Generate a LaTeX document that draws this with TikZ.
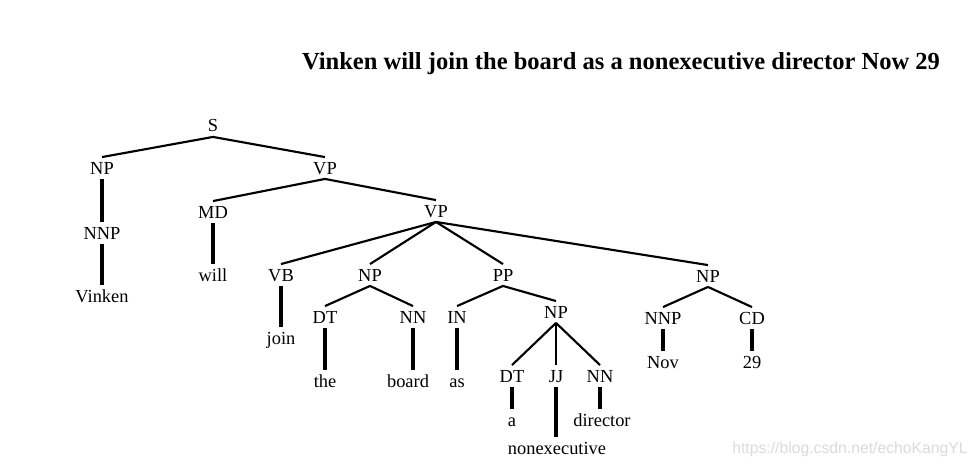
\documentclass[tikz,border=0pt]{standalone}
\usepackage{fontspec}
\setmainfont{Liberation Serif}
\newfontfamily\wmfont{Liberation Sans}
\begin{document}
\begin{tikzpicture}[x=0.75pt,y=-0.75pt,
  lab/.style={inner xsep=0pt,inner ysep=3.5pt,text height=9pt,text depth=0pt,font=\fontsize{13.8}{16}\selectfont},
  edge/.style={line width=1.6pt},
  vedge/.style={line width=2.6pt}]
\path[use as bounding box,fill=white] (0,0) rectangle (978,467);
\node[font=\fontsize{18.4}{22}\selectfont\bfseries] (title) at (621,63.5) {Vinken will join the board as a nonexecutive director Now 29};
\node[font=\wmfont\fontsize{11.8}{14}\selectfont,text=black!14] (wm) at (850,449) {https://blog.csdn.net/echoKangYL};
% nodes
\node[lab] (S) at (213,126) {S};
\node[lab] (NPa) at (102,168) {NP};
\node[lab] (VPa) at (325,168) {VP};
\node[lab] (NNPa) at (102,233) {NNP};
\node[lab] (Vinken) at (102,296) {Vinken};
\node[lab] (MD) at (213,212) {MD};
\node[lab] (will) at (213,275) {will};
\node[lab] (VPb) at (436,211) {VP};
\node[lab] (VB) at (281,275) {VB};
\node[lab] (join) at (281,338) {join};
\node[lab] (NPb) at (370,275) {NP};
\node[lab] (DTa) at (325,317) {DT};
\node[lab] (the) at (325,381) {the};
\node[lab] (NNa) at (413,317) {NN};
\node[lab] (board) at (408,381) {board};
\node[lab] (PP) at (503,275) {PP};
\node[lab] (IN) at (457,317) {IN};
\node[lab] (as) at (457,381) {as};
\node[lab] (NPc) at (556,312) {NP};
\node[lab] (DTb) at (512,376) {DT};
\node[lab] (a) at (512,420) {a};
\node[lab] (JJ) at (556,376) {JJ};
\node[lab] (nonexec) at (557,448) {nonexecutive};
\node[lab] (NNb) at (600,376) {NN};
\node[lab] (director) at (602,420) {director};
\node[lab] (NPd) at (708,276) {NP};
\node[lab] (NNPb) at (663,318) {NNP};
\node[lab] (CD) at (752,318) {CD};
\node[lab] (Nov) at (663,362) {Nov};
\node[lab] (n29) at (752,362) {29};
% diagonal edges
\draw[edge] (S.south) -- (NPa.north);
\draw[edge] (S.south) -- (VPa.north);
\draw[edge] (VPa.south) -- (MD.north);
\draw[edge] (VPa.south) -- (VPb.north);
\draw[edge] (VPb.south) -- (VB.north);
\draw[edge] (VPb.south) -- (NPb.north);
\draw[edge] (VPb.south) -- (PP.north);
\draw[edge] (VPb.south) -- (NPd.north);
\draw[edge] (NPb.south) -- (DTa.north);
\draw[edge] (NPb.south) -- (NNa.north);
\draw[edge] (PP.south) -- (IN.north);
\draw[edge] (PP.south) -- (NPc.north);
\draw[edge] (NPc.south) -- (DTb.north);
\draw[edge] (NPc.south) -- (JJ.north);
\draw[edge] (NPc.south) -- (NNb.north);
\draw[edge] (NPd.south) -- (NNPb.north);
\draw[edge] (NPd.south) -- (CD.north);
% vertical edges
\draw[vedge] (NPa.south) -- (NNPa.north);
\draw[vedge] (NNPa.south) -- (NNPa.south |- Vinken.north);
\draw[vedge] (MD.south) -- (MD.south |- will.north);
\draw[vedge] (VB.south) -- (VB.south |- join.north);
\draw[vedge] (DTa.south) -- (DTa.south |- the.north);
\draw[vedge] (NNa.south) -- (NNa.south |- board.north);
\draw[vedge] (IN.south) -- (IN.south |- as.north);
\draw[vedge] (DTb.south) -- (DTb.south |- a.north);
\draw[vedge] (JJ.south) -- (JJ.south |- nonexec.north);
\draw[vedge] (NNb.south) -- (NNb.south |- director.north);
\draw[vedge] (NNPb.south) -- (NNPb.south |- Nov.north);
\draw[vedge] (CD.south) -- (CD.south |- n29.north);
\end{tikzpicture}
\end{document}
